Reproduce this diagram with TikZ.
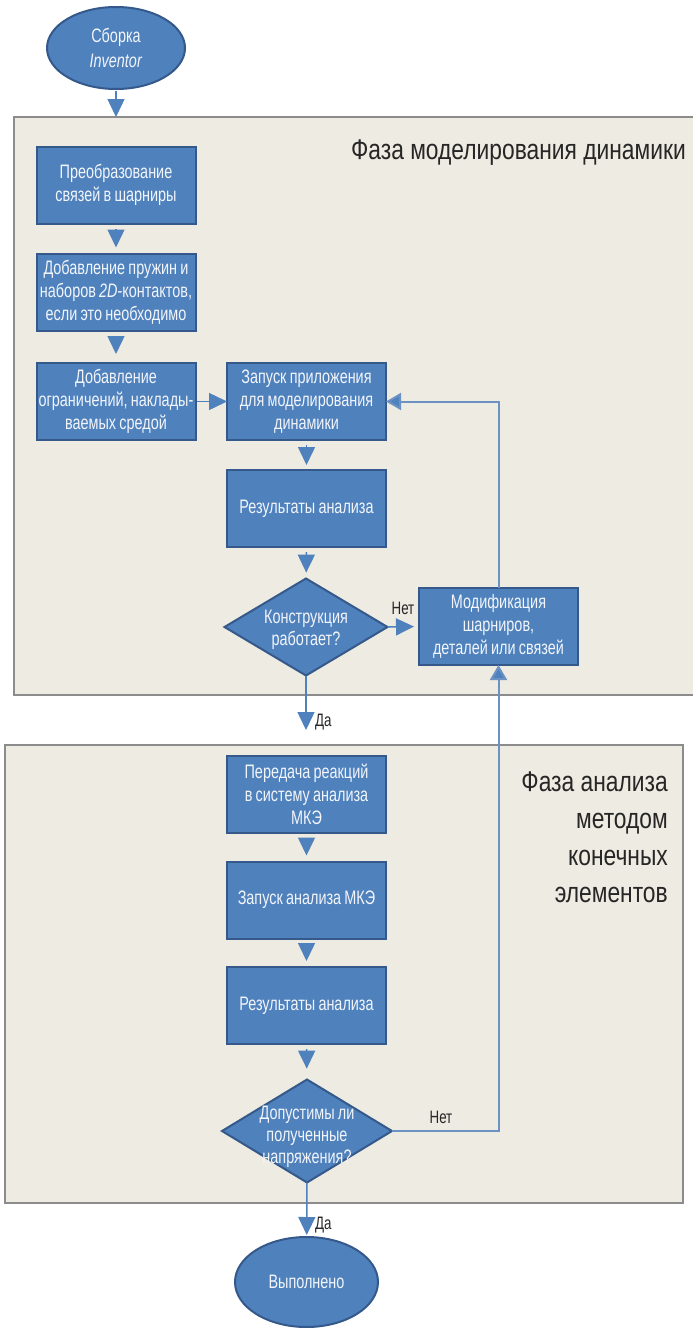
\documentclass[tikz,border=0pt]{standalone}
\usepackage{fontspec}
\setmainfont{Liberation Sans}[FakeStretch=0.8]
\newfontfamily\boxfont{Liberation Sans}[FakeStretch=0.74, WordSpace=0.8]
\newfontfamily\titlefont{Liberation Sans}[FakeStretch=0.8]
\usetikzlibrary{shapes.geometric,arrows.meta}
\definecolor{boxfill}{HTML}{4F81BD}
\definecolor{boxline}{HTML}{34598A}
\definecolor{linkblue}{HTML}{6B92C3}
\definecolor{beige}{HTML}{EEEBE2}
\definecolor{framegray}{HTML}{8C8C8C}
\definecolor{boxtext}{HTML}{F2F5FA}
\tikzset{
  stepbox/.style={rectangle, draw=boxline, fill=boxfill, line width=2pt,
    minimum width=159pt, minimum height=77pt, inner sep=0pt, outer sep=0pt,
    align=center, text=boxtext,
    font=\boxfont\fontsize{19.5}{23}\selectfont},
  decide/.style={diamond, draw=boxline, fill=boxfill, line width=2pt,
    inner sep=0pt, outer sep=0pt},
  decidetext/.style={align=center, text=boxtext, font=\boxfont\fontsize{19.5}{22}\selectfont},
  term/.style={ellipse, draw=boxline, fill=boxfill, line width=2pt,
    inner sep=0pt, outer sep=0pt, align=center, text=boxtext,
    font=\boxfont\fontsize{19.5}{25}\selectfont},
  phase/.style={draw=framegray, fill=beige, line width=2pt},
  phasetitle/.style={text=black!85, font=\titlefont\fontsize{28.5}{37}\selectfont, inner sep=0pt},
  yesno/.style={text=black!85, font=\boxfont\fontsize{18}{20}\selectfont, inner sep=0pt},
  flow/.style={draw=boxfill, line width=1.5pt, -{Triangle[width=17pt,length=18pt]}},
  loop/.style={draw=linkblue, line width=2pt, -{Triangle[width=17pt,length=15pt,fill=boxfill]}},
}
\begin{document}
\begin{tikzpicture}[x=1pt,y=-1pt]
\useasboundingbox (0,0) rectangle (693,1328);
% phase frames
\path[phase] (14,117) rectangle (702,695);
\path[phase] (5,745) rectangle (683,1203);
\node[phasetitle, anchor=east] (t1) at (686,153) {Фаза моделирования динамики};
\node[phasetitle, anchor=east, align=right] (t2) at (668,837)
  {Фаза анализа\\методом\\конечных\\элементов};
% nodes
\node[term, minimum width=138pt, minimum height=82pt] (start) at (116,48)
  {Сборка\\\textit{Inventor}};
\coordinate (f1top) at (116,117);
\node[stepbox] (b1) at (116,185) {Преобразование\\связей в шарниры};
\node[stepbox] (b2) at (116,292) {Добавление пружин и\\наборов \textit{2D}-контактов,\\если это необходимо};
\node[stepbox] (b3) at (116,401.5) {Добавление\\ограничений, наклады-\\ваемых средой};
\node[stepbox] (b4) at (306.5,401.5) {Запуск приложения\\для моделирования\\динамики};
\node[stepbox] (b5) at (306.5,508.5) {Результаты анализа};
\node[decide, minimum width=163pt, minimum height=97pt,
  label={[decidetext, yshift=-3pt]center:{Конструкция\\работает?}}] (d1) at (306,627) {};
\node[stepbox] (b6) at (498.5,626.5) {Модификация\\шарниров,\\деталей или связей};
\coordinate (yes1) at (306,730);
\node[stepbox] (b7) at (306.5,794) {Передача реакций\\в систему анализа\\МКЭ};
\node[stepbox] (b8) at (306.5,900) {Запуск анализа МКЭ};
\node[stepbox] (b9) at (306.5,1005.5) {Результаты анализа};
\node[decide, minimum width=170pt, minimum height=103pt,
  label={[decidetext, yshift=-6pt]center:{Допустимы ли\\полученные\\напряжения?}}] (d2) at (307,1131) {};
\node[term, minimum width=143pt, minimum height=90pt] (done) at (306.5,1282) {Выполнено};
% connectors
\draw[flow, shorten <=2pt] (start) -- (f1top);
\draw[flow, shorten <=5pt, shorten >=6pt] (b1) -- (b2);
\draw[flow, shorten <=5pt, shorten >=9pt] (b2) -- (b3);
\draw[flow, shorten <=1pt] (b3) -- (b4);
\draw[flow, shorten <=5pt, shorten >=5pt] (b4) -- (b5);
\draw[flow, shorten <=5pt, shorten >=6pt] (b5) -- (d1);
\draw[flow, shorten >=5pt] (d1.east) -- (b6.west);
\node[yesno, anchor=south] (no1) at (403,615) {Нет};
\draw[loop] (b6.north) |- (b4.east);
\draw[flow] (d1.south) -- (yes1);
\node[yesno, anchor=west] (yeslabel1) at (315,722) {Да};
\draw[flow, shorten <=5pt, shorten >=6pt] (b7) -- (b8);
\draw[flow, shorten <=5pt, shorten >=6pt] (b8) -- (b9);
\draw[flow, shorten <=5pt, shorten >=11pt] (b9) -- (d2);
\draw[loop] (d2.east) -| (b6.south);
\node[yesno] (no2) at (441,1117) {Нет};
\draw[flow, shorten >=2pt] (d2.south) -- (done);
\node[yesno, anchor=west] (yeslabel2) at (315,1225) {Да};
\end{tikzpicture}
\end{document}
